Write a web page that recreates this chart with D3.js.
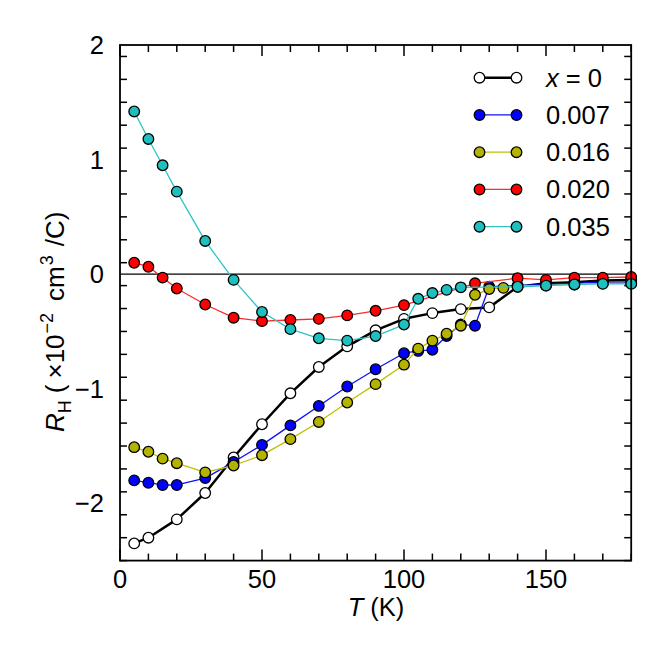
<!DOCTYPE html>
<html><head><meta charset="utf-8">
<script src="https://cdn.jsdelivr.net/npm/d3@7"></script>
<style>body{margin:0;background:#fff}svg{display:block}</style>
</head><body>
<svg id="c" width="664" height="664"></svg>
<script>
const seriesNames = ["x = 0", "0.007", "0.016", "0.020", "0.035"];
const tempsX0 = [5,10,20,30,40,50,60,70,80,90,100,110,120,130,140,150,160,170,180];
const rhX0 = [-2.35,-2.30,-2.14,-1.91,-1.60,-1.31,-1.04,-0.81,-0.63,-0.49,-0.39,-0.34,-0.305,-0.29,-0.11,-0.08,-0.07,-0.055,-0.05];
const temps007 = [5,10,15,20,30,40,50,60,70,80,90,100,105,110,115,120,125,130,140,150,160,170,180];
const rh007 = [-1.80,-1.82,-1.84,-1.84,-1.78,-1.64,-1.49,-1.32,-1.15,-0.98,-0.83,-0.69,-0.67,-0.66,-0.54,-0.44,-0.45,-0.11,-0.10,-0.09,-0.08,-0.07,-0.07];
const temps016 = [5,10,15,20,30,40,50,60,70,80,90,100,105,110,115,120,125,130,135,140,150,160,170,180];
const rh016 = [-1.51,-1.55,-1.61,-1.65,-1.73,-1.67,-1.58,-1.44,-1.29,-1.12,-0.96,-0.79,-0.65,-0.58,-0.52,-0.45,-0.18,-0.13,-0.12,-0.10,-0.10,-0.09,-0.08,-0.08];
const temps020 = [5,10,15,20,30,40,50,60,70,80,90,100,125,140,150,160,170,180];
const rh020 = [0.10,0.065,-0.03,-0.125,-0.265,-0.38,-0.41,-0.40,-0.39,-0.36,-0.32,-0.27,-0.08,-0.035,-0.05,-0.03,-0.03,-0.025];
const temps035 = [5,10,15,20,30,40,50,60,70,80,90,100,105,110,115,120,140,150,160,170,180];
const rh035 = [1.42,1.18,0.95,0.72,0.29,-0.05,-0.33,-0.48,-0.56,-0.58,-0.54,-0.44,-0.215,-0.165,-0.137,-0.115,-0.11,-0.10,-0.09,-0.085,-0.085];
const xTickLabels = [0,50,100,150];
const yTickLabels = [2,1,0,-1,-2];

const fills = ["#ffffff","#0000ff","#b4b400","#ff0000","#1fbfbf"];
const lineCols = ["#000000","#1010ff","#c0c000","#ff2a2a","#2ec4c4"];
const lineW = [2.5,1.3,1.3,1.3,1.3];

const series = [
  {t:tempsX0, v:rhX0}, {t:temps007, v:rh007}, {t:temps016, v:rh016},
  {t:temps020, v:rh020}, {t:temps035, v:rh035}
].map((s,i)=>({name:seriesNames[i], pts:s.t.map((t,j)=>[t,s.v[j]]), fill:fills[i], line:lineCols[i], w:lineW[i]}));

const L=120, T=45, W=511.2, H=515.6;
const x = d3.scaleLinear().domain([0,180]).range([L,L+W]);
const y = d3.scaleLinear().domain([-2.5,2]).range([T+H,T]);
const svg = d3.select("#c");
const font = "'Liberation Sans', Arial, Helvetica, sans-serif";
const FS = 25.5;

// zero line
svg.append("line").attr("x1",x(0)).attr("x2",x(180)).attr("y1",y(0)).attr("y2",y(0))
  .attr("stroke","#000").attr("stroke-width",1.2);

// ticks (inward, all sides)
const g = svg.append("g").attr("stroke","#000").attr("stroke-width",1.5);
d3.range(0,181,10).forEach(t=>{
  const len = (t%50===0)?11:7;
  g.append("line").attr("x1",x(t)).attr("x2",x(t)).attr("y1",T+H).attr("y2",T+H-len);
  g.append("line").attr("x1",x(t)).attr("x2",x(t)).attr("y1",T).attr("y2",T+len);
});
d3.range(-25,21,2).forEach(k=>{
  const v=k/10; const len=(k%10===0)?11:7;
  g.append("line").attr("x1",L).attr("x2",L+len).attr("y1",y(v)).attr("y2",y(v));
  g.append("line").attr("x1",L+W).attr("x2",L+W-len).attr("y1",y(v)).attr("y2",y(v));
});

// tick labels
svg.append("g").selectAll("text").data(xTickLabels).join("text")
  .attr("x",d=>x(d)).attr("y",588).attr("text-anchor","middle")
  .attr("font-family",font).attr("font-size",FS).text(d=>d);
svg.append("g").selectAll("text").data(yTickLabels).join("text")
  .attr("x",104).attr("y",d=>y(d)+9).attr("text-anchor","end")
  .attr("font-family",font).attr("font-size",FS).text(d=>d<0?"\u2212"+Math.abs(d):d);

// lines and points
const lineGen = d3.line().x(d=>x(d[0])).y(d=>y(d[1]));
series.forEach(s=>{
  svg.append("path").attr("d",lineGen(s.pts)).attr("fill","none")
    .attr("stroke",s.line).attr("stroke-width",s.w).attr("stroke-linejoin","round");
  svg.append("g").selectAll("circle").data(s.pts).join("circle")
    .attr("cx",d=>x(d[0])).attr("cy",d=>y(d[1])).attr("r",5.3)
    .attr("fill",s.fill).attr("stroke","#000").attr("stroke-width",1.3);
});

// frame
svg.append("rect").attr("x",L).attr("y",T).attr("width",W).attr("height",H)
  .attr("fill","none").attr("stroke","#000").attr("stroke-width",1.8);

// legend
const legY0 = 77.7, legDy = 37.25;
series.forEach((s,i)=>{
  const yy = legY0 + i*legDy;
  svg.append("line").attr("x1",479.5).attr("x2",516.5).attr("y1",yy).attr("y2",yy)
    .attr("stroke",s.line).attr("stroke-width",s.w);
  [479.5,516.5].forEach(cx=>svg.append("circle").attr("cx",cx).attr("cy",yy).attr("r",5.3)
    .attr("fill",s.fill).attr("stroke","#000").attr("stroke-width",1.3));
  const t = svg.append("text").attr("x",546).attr("y",yy+9).attr("font-family",font).attr("font-size",FS);
  if(i===0){
    t.append("tspan").attr("font-style","italic").text("x");
    t.append("tspan").text(" = 0");
  } else t.text(s.name);
});

// axis titles
const xt = svg.append("text").attr("x",376).attr("y",616).attr("text-anchor","middle")
  .attr("font-family",font).attr("font-size",FS);
xt.append("tspan").attr("font-style","italic").text("T");
xt.append("tspan").text(" (K)");

const yt = svg.append("text").attr("transform","translate(64,432) rotate(-90)")
  .attr("text-anchor","start").attr("font-family",font).attr("font-size",26);
yt.append("tspan").attr("font-style","italic").text("R");
yt.append("tspan").attr("font-size",18).attr("dy",7).attr("dx",0).text("H");
yt.append("tspan").attr("dy",-7).attr("dx",7).text("(");
yt.append("tspan").attr("dx",6).text("\u00d710");
yt.append("tspan").attr("font-size",18).attr("dy",-11).attr("dx",1).text("\u22122");
yt.append("tspan").attr("dy",11).attr("dx",12).text("cm");
yt.append("tspan").attr("font-size",18).attr("dy",-11).attr("dx",1).text("3");
yt.append("tspan").attr("dy",11).attr("dx",9).text("/C)");
</script>
</body></html>
